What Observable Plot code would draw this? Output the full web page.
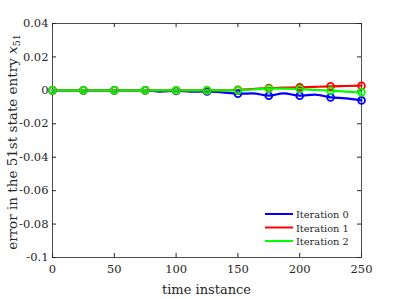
<!DOCTYPE html>
<html>
<head>
<meta charset="utf-8">
<script src="https://cdn.jsdelivr.net/npm/d3@7"></script>
<script src="https://cdn.jsdelivr.net/npm/@observablehq/plot@0.6"></script>
<style>
  html, body { margin: 0; padding: 0; background: #fff; }
  #chart { width: 399px; height: 299px; }
  #chart svg, #chart svg text { font-family: "DejaVu Serif", serif !important; }
</style>
</head>
<body>
<div id="chart"></div>
<script>
// ---- data ----
const markerTimes = [0, 25, 50, 75, 100, 125, 150, 175, 200, 225, 250];
const iter0Markers = [0, 0, 0, 0, -0.0003, -0.0006, -0.002, -0.0032, -0.0032, -0.0042, -0.006];
const iter1Markers = [0, 0, 0, 0, 0, 0, 0.0003, 0.0014, 0.0018, 0.0024, 0.0028];
const iter2Markers = [0, 0, 0, 0, 0, 0, 0, 0.001, 0.0008, -0.0002, -0.0012];
// in-between readings of the continuous traces (time, value)
const iter0Between = [[87, -0.0008], [112, -0.0008], [137, -0.0012], [162, -0.0018], [187, -0.0018], [212, -0.0025], [237, -0.0048]];
const iter1Between = [[162, 0.0008], [187, 0.0016], [212, 0.0021], [237, 0.0026]];
const iter2Between = [[162, 0.0005], [187, 0.001], [212, 0.0003], [237, -0.0007]];
const seriesNames = ["Iteration 0", "Iteration 1", "Iteration 2"];
const seriesColors = ["#0000ff", "#ff0000", "#00ff00"];
const xTicks = [0, 50, 100, 150, 200, 250];
const yTicks = [0.04, 0.02, 0, -0.02, -0.04, -0.06, -0.08, -0.1];
const yTickLabels = ["0.04", "0.02", "0", "-0.02", "-0.04", "-0.06", "-0.08", "-0.1"];
const xLabel = "time instance";
const yLabelMain = "error in the 51st state entry ";

// ---- build tables ----
const markerSets = [iter0Markers, iter1Markers, iter2Markers];
const betweenSets = [iter0Between, iter1Between, iter2Between];
const lines = [];
const points = [];
seriesNames.forEach((name, i) => {
  const pts = markerTimes.map((t, j) => ({t, v: markerSets[i][j], s: name}));
  pts.forEach(p => points.push(p));
  const all = pts.concat(betweenSets[i].map(([t, v]) => ({t, v, s: name})));
  all.sort((a, b) => a.t - b.t);
  all.forEach(p => lines.push(p));
});

const W = 399, H = 299;
const mL = 52, mR = 38, mT = 23, mB = 42;
const pw = W - mL - mR, ph = H - mT - mB;
const font = "DejaVu Serif";
const ink = "#262626";

const chart = Plot.plot({
  width: W, height: H,
  marginLeft: mL, marginRight: mR, marginTop: mT, marginBottom: mB,
  style: {fontFamily: font, fontSize: "11px", color: ink, background: "#fff"},
  x: {domain: [0, 250], ticks: xTicks},
  y: {domain: [-0.1, 0.04], ticks: yTicks},
  color: {domain: seriesNames, range: seriesColors},
  marks: [
    Plot.frame({stroke: "#4d4d4d", strokeWidth: 1}),
    // inward ticks on all four sides
    Plot.tickX(xTicks, {x: d => d, insetTop: ph - 4, stroke: ink}),
    Plot.tickX(xTicks, {x: d => d, insetBottom: ph - 4, stroke: ink}),
    Plot.tickY(yTicks, {y: d => d, insetRight: pw - 4, stroke: ink}),
    Plot.tickY(yTicks, {y: d => d, insetLeft: pw - 4, stroke: ink}),
    Plot.axisX(xTicks, {tickSize: 0, tickPadding: 7, fontSize: 11.5, label: null}),
    Plot.axisY(yTicks, {tickSize: 0, tickPadding: 4, fontSize: 11.5, label: null,
      tickFormat: d => yTickLabels[yTicks.indexOf(d)]}),
    Plot.line(lines, {x: "t", y: "v", z: "s", stroke: "s", strokeWidth: 2.2, curve: "monotone-x"}),
    Plot.dot(points, {x: "t", y: "v", stroke: "s", r: 3.4, strokeWidth: 1.8, fill: "none"})
  ]
});

const svg = d3.select(chart);
// axis titles
svg.append("text")
  .attr("x", mL + pw / 2).attr("y", 294)
  .attr("text-anchor", "middle")
  .style("font-size", "13px").style("fill", ink)
  .text(xLabel);
const yl = svg.append("text")
  .attr("transform", `translate(17,${mT + ph / 2 + 2}) rotate(-90)`)
  .attr("text-anchor", "middle")
  .style("font-size", "13.5px").style("fill", ink);
yl.append("tspan").text(yLabelMain);
yl.append("tspan").style("font-style", "italic").text("x");
yl.append("tspan").attr("dy", 3).style("font-size", "9.5px").text("51");

// legend (no box), inside plot lower-right
const legX = 265, legY0 = 214, legDy = 13.5;
seriesNames.forEach((name, i) => {
  const g = svg.append("g");
  g.append("line").attr("x1", legX).attr("x2", legX + 28)
    .attr("y1", legY0 + i * legDy).attr("y2", legY0 + i * legDy)
    .attr("stroke", seriesColors[i]).attr("stroke-width", 2);
  g.append("text").attr("x", legX + 31).attr("y", legY0 + i * legDy + 4)
    .attr("text-anchor", "start")
    .style("font-size", "9.8px").style("fill", ink)
    .text(name);
});

document.getElementById("chart").appendChild(chart);
</script>
</body>
</html>
